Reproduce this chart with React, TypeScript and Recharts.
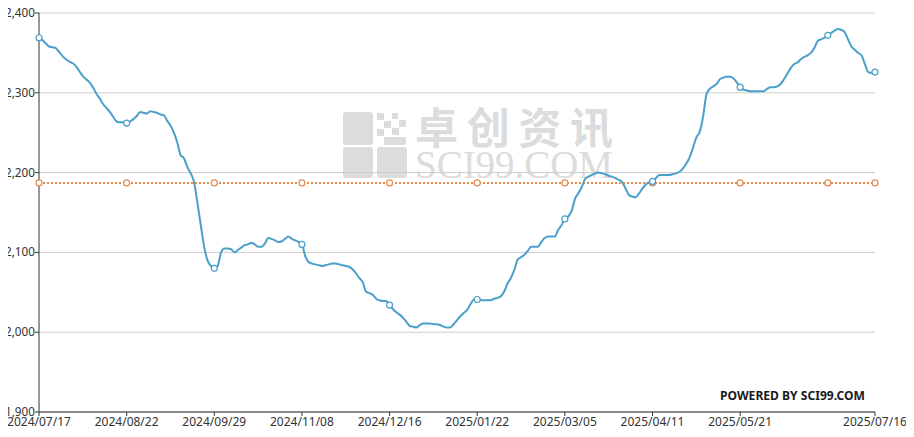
import React from "react";
import { LineChart, Line, XAxis, YAxis, CartesianGrid } from "recharts";

// daily price, one value per working day
const values = [
  2369, 2366, 2362, 2358, 2357, 2356, 2351, 2346, 2342, 2339, 2337, 2333, 2327, 2321, 2317, 2313, 2307, 2299, 2293, 2286, 2281, 2276, 2270, 2264, 2263, 2263, 2262,
  2264, 2267, 2271, 2276, 2275, 2274, 2277, 2276, 2275, 2273, 2272, 2265, 2259, 2250, 2238, 2222, 2218, 2207, 2199, 2188, 2162, 2134, 2107, 2090, 2083, 2080,
  2083, 2100, 2105, 2105, 2104, 2100, 2103, 2106, 2109, 2110, 2112, 2110, 2107, 2107, 2111, 2118, 2117, 2115, 2113, 2114, 2117, 2120, 2117, 2115, 2113, 2110,
  2095, 2088, 2086, 2085, 2084, 2083, 2084, 2085, 2086, 2086, 2085, 2084, 2083, 2082, 2079, 2074, 2068, 2063, 2051, 2049, 2047, 2042, 2040, 2039, 2039, 2034,
  2029, 2025, 2022, 2018, 2013, 2008, 2007, 2006, 2009, 2011, 2011, 2011, 2010, 2010, 2009, 2007, 2006, 2006, 2010, 2015, 2020, 2024, 2028, 2035, 2041, 2041,
  2040, 2040, 2040, 2040, 2042, 2043, 2045, 2051, 2061, 2068, 2078, 2091, 2094, 2097, 2102, 2107, 2107, 2107, 2113, 2118, 2120, 2120, 2120, 2128, 2134, 2142,
  2145, 2152, 2167, 2174, 2182, 2192, 2195, 2197, 2199, 2200, 2199, 2198, 2196, 2195, 2193, 2191, 2188, 2180, 2172, 2170, 2169, 2174, 2180, 2185, 2188, 2189,
  2193, 2197, 2197, 2197, 2197, 2198, 2199, 2201, 2205, 2211, 2219, 2231, 2244, 2251, 2270, 2298, 2305, 2308, 2311, 2317, 2319, 2320, 2320, 2318, 2313, 2307,
  2304, 2303, 2302, 2302, 2302, 2302, 2302, 2305, 2307, 2307, 2308, 2311, 2317, 2324, 2331, 2336, 2338, 2342, 2345, 2347, 2350, 2356, 2365, 2367, 2369, 2372,
  2375, 2378, 2380, 2379, 2376, 2367, 2358, 2354, 2350, 2347, 2336, 2326, 2325, 2326,
];
const avgPrice = 2187;

const tickIndex = [0, 26, 52, 78, 104, 130, 156, 182, 208, 248];
const tickLabels = [
  "2024/07/17", "2024/08/22", "2024/09/29", "2024/11/08", "2024/12/16",
  "2025/01/22", "2025/03/05", "2025/04/11", "2025/05/21", "2025/07/16",
];
const markerIndex = [0, 26, 52, 78, 104, 130, 156, 182, 208, 234, 248];
const yTicks = [1900, 2000, 2100, 2200, 2300, 2400];

const rows = values.map((v, i) => ({ i, price: v, avg: avgPrice }));

const BLUE = "#4a9fcb";
const ORANGE = "#e58b4c";
const FONT = "'Noto Sans', 'Open Sans', sans-serif";

const marker = (color: string) => (p: any) =>
  markerIndex.includes(p.index) ? (
    <circle key={`m${p.index}`} cx={p.cx} cy={p.cy} r={3} fill="#fff" stroke={color} strokeWidth={1.2} />
  ) : (
    <g key={`m${p.index}`} />
  );

const YTick = (p: any) => (
  <text x={5} y={p.y} dy={4} textAnchor="start" fontSize={12} fill="#333" fontFamily={FONT}
    textLength={30} lengthAdjust="spacingAndGlyphs">
    {Number(p.payload.value).toLocaleString("en-US")}
  </text>
);

function Watermark() {
  const g = "#dcdcdc";
  return (
    <svg width={914} height={437} style={{ position: "absolute", left: 0, top: 0 }}>
      {/* logo */}
      <rect x={343} y={112} width={30} height={33} rx={3} fill={g} />
      <rect x={343} y={147} width={30} height={31} rx={3} fill={g} />
      <rect x={377} y={147} width={30} height={31} rx={3} fill={g} />
      <rect x={377} y={113} width={7} height={7} fill={g} />
      <rect x={392} y={113} width={6} height={6} fill={g} />
      <rect x={384} y={121} width={7} height={7} fill={g} />
      <rect x={399} y={120} width={7} height={7} fill={g} />
      <rect x={377} y={129} width={7} height={7} fill={g} />
      <rect x={392} y={128} width={7} height={7} fill={g} />
      <rect x={384} y={137} width={22} height={8} fill={g} />
      <text x={415} y={144} fill={g} fontSize={43} fontWeight="bold"
        fontFamily="'Noto Sans CJK SC', sans-serif" textLength={198} lengthAdjust="spacing">
        卓创资讯
      </text>
      <text x={415} y={178} fill={g} fontSize={40}
        fontFamily="'Liberation Serif', serif" textLength={198} lengthAdjust="spacingAndGlyphs">
        SCI99.COM
      </text>
      <text x={720} y={400} fill="#1a1a1a" fontSize={13} fontWeight="bold"
        fontFamily={FONT} textLength={145} lengthAdjust="spacingAndGlyphs">
        POWERED BY SCI99.COM
      </text>
    </svg>
  );
}

export default function App() {
  return (
    <div style={{ position: "relative", width: 914, height: 437, margin: -8, fontFamily: FONT }}>
      <Watermark />
      <div style={{ position: "absolute", left: 0, top: 0 }}>
        <LineChart width={914} height={437} data={rows} margin={{ top: 13, right: 39, bottom: 0, left: 0 }}>
          <CartesianGrid vertical={false} stroke="#cccccc" />
          <XAxis
            dataKey="i"
            type="number"
            domain={[0, values.length - 1]}
            ticks={tickIndex}
            interval={0}
            tickFormatter={(v: number) => tickLabels[tickIndex.indexOf(v)] ?? ""}
            height={25}
            tickSize={4}
            tickMargin={1}
            stroke="#333"
            tick={{ fontSize: 12, fill: "#333" }}
          />
          <YAxis
            domain={[1900, 2400]}
            ticks={yTicks}
            interval={0}
            width={39}
            tickSize={4}
            stroke="#333"
            tick={<YTick />}
          />
          <Line
            dataKey="avg"
            type="linear"
            stroke={ORANGE}
            strokeWidth={2}
            strokeDasharray="2 2"
            dot={marker(ORANGE)}
            activeDot={false}
            isAnimationActive={false}
          />
          <Line
            dataKey="price"
            type="monotone"
            stroke={BLUE}
            strokeWidth={2}
            dot={marker(BLUE)}
            activeDot={false}
            isAnimationActive={false}
          />
        </LineChart>
      </div>
    </div>
  );
}
